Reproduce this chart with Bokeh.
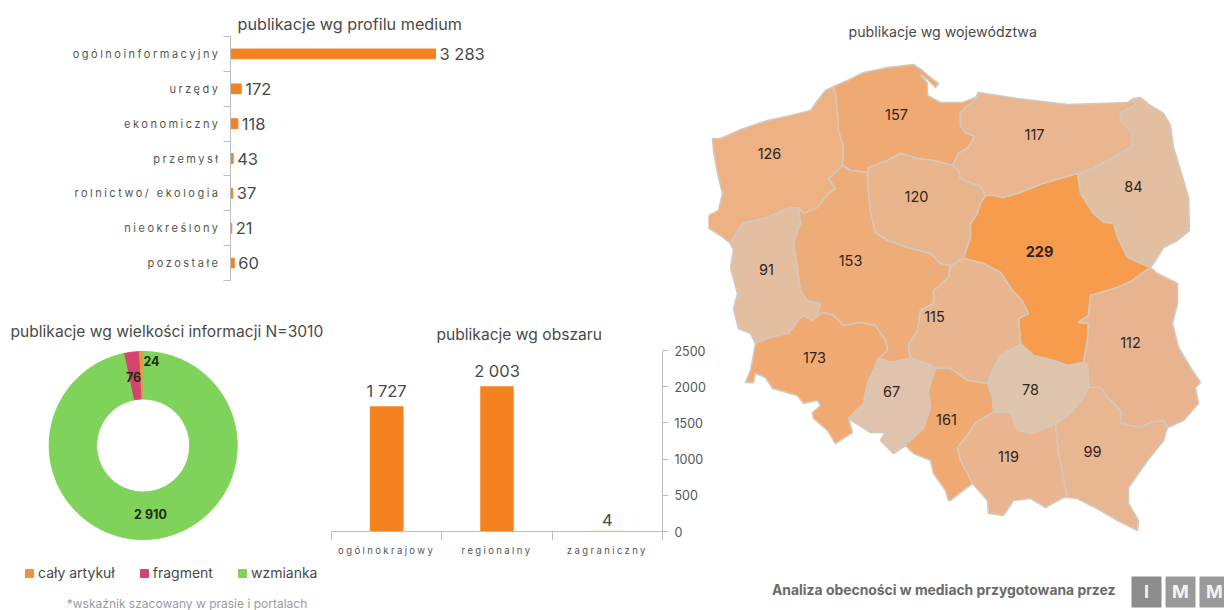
from math import pi
from bokeh.plotting import figure
from bokeh.layouts import row, column
from bokeh.models import Range1d, FixedTicker, Title, Legend, LegendItem, ColumnDataSource, LinearAxis
from bokeh.embed import file_html
from bokeh.resources import INLINE
from bokeh.core.properties import value

FONT = "Inter"
ORANGE = "#F58220"
TXT = "#4a4a4a"
AXIS = "#bdbdbd"

# --- data -----------------------------------------------------------------
profile_labels = ["ogólnoinformacyjny", "urzędy", "ekonomiczny", "przemysł",
                  "rolnictwo/ ekologia", "nieokreślony", "pozostałe"]
profile_values = [3283, 172, 118, 43, 37, 21, 60]
profile_text = ["3 283", "172", "118", "43", "37", "21", "60"]

size_labels = ["cały artykuł", "fragment", "wzmianka"]
size_values = [24, 76, 2910]
size_colors = ["#F0923B", "#D1456F", "#7FD35A"]

area_labels = ["ogólnokrajowy", "regionalny", "zagraniczny"]
area_values = [1727, 2003, 4]
area_text = ["1 727", "2 003", "4"]
area_ticks = [0, 500, 1000, 1500, 2000, 2500]

region_values = [126, 157, 120, 117, 84, 229, 91, 153, 115, 112, 173, 67, 78, 161, 119, 99]
region_colors = ["#EDB183", "#EFA972", "#E8B48C", "#E9B690", "#E3BFA2", "#F79C4C",
                 "#E3BEA0", "#EEAD78", "#E8B58E", "#E8B490", "#F0A970", "#DFC3AC",
                 "#DFC4AD", "#EFA971", "#E9B48E", "#E8B691"]
region_label_x = [769, 896, 916, 1034, 1133, 1039, 766, 850, 934, 1130, 814, 891, 1030, 946, 1008, 1092]
region_label_y = [153, 114, 196, 134, 186, 251, 269, 260, 316, 342, 357, 391, 389, 419, 456, 451]

zachodniopomorskie = [(833,86),(825,90),(817,100),(810,110),(790,115),(767,120),(743,128),(720,138),(712,138),(713,150),(717,173),(722,193),(718,210),(708,215),(707,227),(720,235),(730,243),(742,223),(767,217),(787,208),(798,207),(803,213),(817,207),(828,193),(835,188),(828,178),(835,172),(842,165),(843,147),(838,130),(837,113),(835,93)]
pomorskie = [(833,86),(847,80),(863,72),(887,67),(913,64),(922,70),(930,77),(938,83),(935,87),(927,79),(920,74),(927,83),(927,95),(940,102),(962,102),(975,97),(978,92),(977,97),(967,105),(960,112),(960,125),(965,132),(974,136),(968,147),(958,153),(952,165),(933,160),(917,158),(900,153),(887,160),(868,167),(867,172),(850,170),(842,165),(843,147),(838,130),(837,113),(835,93)]
kujawsko_pomorskie = [(868,167),(887,160),(900,153),(917,158),(933,160),(952,165),(958,170),(960,178),(980,186),(985,195),(980,203),(977,213),(970,223),(970,237),(963,258),(950,265),(940,263),(930,253),(907,247),(887,240),(875,232),(870,213),(867,183),(867,172)]
warminsko_mazurskie = [(978,92),(1017,98),(1067,104),(1127,102),(1133,98),(1135,105),(1120,112),(1120,120),(1132,133),(1130,147),(1110,158),(1093,168),(1077,173),(1060,178),(1043,183),(1017,193),(1003,197),(992,195),(985,195),(980,186),(960,178),(958,170),(952,165),(958,153),(968,147),(974,136),(965,132),(960,125),(960,112),(967,105),(977,97)]
podlaskie = [(1133,98),(1140,97),(1150,105),(1163,113),(1170,125),(1173,147),(1183,180),(1188,197),(1189,230),(1177,240),(1163,247),(1153,263),(1150,267),(1127,257),(1117,237),(1113,223),(1103,222),(1093,213),(1080,193),(1077,173),(1093,168),(1110,158),(1130,147),(1132,133),(1120,120),(1120,112),(1135,105)]
mazowieckie = [(1077,173),(1060,178),(1043,183),(1017,193),(1003,197),(992,195),(985,195),(980,203),(977,213),(970,223),(970,237),(963,258),(983,263),(1000,272),(1012,290),(1020,298),(1023,303),(1028,313),(1018,318),(1020,343),(1033,355),(1053,360),(1067,365),(1083,362),(1087,340),(1088,323),(1078,322),(1088,315),(1090,295),(1117,287),(1132,280),(1150,267),(1127,257),(1117,237),(1113,223),(1103,222),(1093,213),(1080,193)]
lubuskie = [(730,243),(742,223),(767,217),(787,208),(798,207),(800,223),(793,243),(797,267),(800,290),(807,300),(820,303),(815,320),(812,320),(800,317),(788,333),(778,335),(767,338),(755,343),(750,333),(738,328),(733,308),(738,290),(738,297),(730,267),(733,250)]
wielkopolskie = [(842,165),(850,170),(867,172),(867,183),(870,213),(875,232),(887,240),(907,247),(930,253),(940,263),(950,265),(948,277),(937,287),(933,290),(933,303),(920,310),(917,330),(908,345),(910,358),(890,362),(878,358),(887,350),(885,340),(875,325),(860,322),(843,325),(833,315),(822,312),(812,320),(815,320),(820,303),(807,300),(800,290),(797,267),(793,243),(800,223),(798,207),(803,213),(817,207),(828,193),(835,188),(828,178),(835,172)]
lodzkie = [(950,265),(963,258),(983,263),(1000,272),(1012,290),(1020,298),(1023,303),(1028,313),(1018,318),(1020,343),(1018,345),(1000,355),(992,370),(987,383),(967,380),(950,368),(935,368),(932,365),(910,358),(908,345),(917,330),(920,310),(933,303),(933,290),(937,287),(948,277)]
lubelskie = [(1150,267),(1157,273),(1177,283),(1177,303),(1172,323),(1178,347),(1190,367),(1200,382),(1195,387),(1198,403),(1183,420),(1167,427),(1163,420),(1150,422),(1140,427),(1120,423),(1120,410),(1107,397),(1100,387),(1088,387),(1087,365),(1083,362),(1087,340),(1088,323),(1078,322),(1088,315),(1090,295),(1117,287),(1132,280)]
dolnoslaskie = [(803,315),(812,320),(822,312),(833,315),(843,325),(860,322),(875,325),(885,340),(887,350),(878,358),(867,383),(863,403),(848,418),(852,432),(835,443),(827,430),(813,418),(812,412),(820,405),(817,400),(803,403),(797,395),(772,388),(765,377),(755,373),(753,382),(745,382),(750,370),(755,343),(767,338),(778,335),(788,333),(800,317)]
opolskie = [(878,358),(890,362),(910,358),(932,365),(935,368),(928,390),(930,407),(923,428),(905,445),(893,453),(880,440),(885,432),(870,432),(848,418),(863,403),(867,383)]
swietokrzyskie = [(1018,345),(1000,355),(992,370),(987,383),(992,397),(993,412),(1010,412),(1017,430),(1030,433),(1053,425),(1070,413),(1083,397),(1088,387),(1087,365),(1083,362),(1067,365),(1053,360),(1033,355),(1020,343)]
slaskie = [(935,368),(950,368),(967,380),(987,383),(992,397),(993,412),(975,422),(968,433),(957,447),(960,460),(972,483),(960,492),(950,500),(948,500),(945,490),(933,473),(930,460),(913,453),(905,445),(923,428),(930,407),(928,390)]
malopolskie = [(993,412),(975,422),(968,433),(957,447),(960,460),(972,483),(987,500),(988,513),(1003,515),(1013,500),(1030,498),(1045,507),(1063,497),(1067,497),(1063,477),(1058,453),(1055,423),(1053,425),(1030,433),(1017,430),(1010,412)]
podkarpackie = [(1088,387),(1100,387),(1107,397),(1120,410),(1120,423),(1140,427),(1150,422),(1163,420),(1167,427),(1163,440),(1147,460),(1128,487),(1128,503),(1138,520),(1137,530),(1117,520),(1100,510),(1077,498),(1067,497),(1063,477),(1058,453),(1055,423),(1070,413),(1083,397)]

regions = [zachodniopomorskie, pomorskie, kujawsko_pomorskie, warminsko_mazurskie, podlaskie,
           mazowieckie, lubuskie, wielkopolskie, lodzkie, lubelskie, dolnoslaskie, opolskie,
           swietokrzyskie, slaskie, malopolskie, podkarpackie]

# --- helpers --------------------------------------------------------------
def base(**kw):
    p = figure(output_backend="svg", toolbar_location=None, background_fill_color=None,
               border_fill_color=None, outline_line_color=None, **kw)
    p.grid.visible = False
    p.axis.visible = False
    return p

def heading(text, offset, standoff, size):
    return Title(text=text, align="left", offset=offset, standoff=standoff,
                 text_font=FONT, text_font_size=size, text_font_style="normal", text_color=TXT)

def tick_only_axis(ticks, out):
    return LinearAxis(ticker=FixedTicker(ticks=ticks), major_label_overrides={t: "" for t in ticks},
                      major_tick_in=0, major_tick_out=out, major_tick_line_color=AXIS,
                      minor_tick_line_color=None, axis_line_color=AXIS, major_label_standoff=0)

# --- profile bars: category labels in their own letter-spaced strip --------
n = len(profile_labels)
centers = [i + 0.5 for i in range(n)]
edges = list(range(n + 1))
shared_y = Range1d(n, 0)
SCALE_END = 478 * 3283 / 205
SP1 = 2.5

lab1 = base(width=222, height=300, x_range=Range1d(0, 222), y_range=shared_y,
            min_border_left=0, min_border_right=0, min_border_top=36, min_border_bottom=20,
            styles={"letter-spacing": f"{SP1}px"})
lab1.text(x=[220] * n, y=centers, text=profile_labels, x_offset=[-len(l) * SP1 for l in profile_labels],
          text_align="right", text_baseline="middle", text_font=value(FONT), text_font_size="11px",
          text_color="#555555")

top = base(width=486, height=300, x_range=Range1d(0, SCALE_END), y_range=shared_y,
           min_border_left=8, min_border_right=0, min_border_top=36, min_border_bottom=20)
top.add_layout(heading("publikacje wg profilu medium", 7, 6, "16.2px"), "above")
top.add_layout(tick_only_axis(edges, 7), "left")
src = ColumnDataSource(dict(y=centers, v=profile_values, t=profile_text))
top.hbar(y="y", left=0, right="v", height=0.28, source=src, fill_color=ORANGE, line_color=ORANGE)
top.text(x="v", y="y", text="t", source=src, x_offset=4, text_align="left", text_baseline="middle",
         text_font=value(FONT), text_font_size="16.5px", text_color=TXT)

# --- doughnut --------------------------------------------------------------
CX, CY, R = 142.7, 445.0, 94.0
def dx(x): return (x - CX) / R
def dy(y): return (CY - y) / R

donut = base(width=330, height=310, x_range=Range1d(dx(0), dx(330)), y_range=Range1d(dy(610), dy(345)),
             min_border_left=0, min_border_right=0, min_border_top=45, min_border_bottom=0)
donut.add_layout(heading("publikacje wg wielkości informacji N=3010", 10, 9, "15.6px"), "above")
total = sum(size_values)
starts, ends, acc = [], [], 0
for v in size_values:
    starts.append(pi / 2 + 2 * pi * acc / total)
    acc += v
    ends.append(pi / 2 + 2 * pi * acc / total)
dsrc = ColumnDataSource(dict(s=starts, e=ends, c=size_colors, l=size_labels))
ring = donut.annular_wedge(x=0, y=0, inner_radius=0.495, outer_radius=1.0, start_angle="s", end_angle="e",
                           fill_color="c", line_color="c", source=dsrc)
donut.text(x=[dx(151), dx(133), dx(150)], y=[dy(360), dy(376), dy(514)],
           text=["24", "76", "2 910"], text_align="center", text_baseline="middle",
           text_font=value(FONT), text_font_size="12.5px", text_font_style="bold", text_color="#1f2a14")
donut.text(x=[dx(186.5)], y=[dy(603)], text=["*wskaźnik szacowany w prasie i portalach"],
           text_align="center", text_baseline="middle", text_font=value(FONT),
           text_font_size="12px", text_color="#9a9aa5")
legend = Legend(items=[LegendItem(label=l, renderers=[ring], index=i) for i, l in enumerate(size_labels)],
                orientation="horizontal", location=(24, 29), border_line_color=None,
                background_fill_color=None, padding=0, margin=0, spacing=24, glyph_width=10, glyph_height=10,
                label_standoff=4, label_text_font=FONT, label_text_font_size="14px", label_text_color=TXT,
                label_height=14)
donut.add_layout(legend, "center")

# --- area bars -------------------------------------------------------------
m = len(area_labels)
acenters = [i + 0.5 for i in range(m)]
shared_x = Range1d(0, m)
SP2 = 2.4
bars = base(width=378, height=240, x_range=shared_x, y_range=Range1d(0, 2500),
            min_border_left=1, min_border_right=46, min_border_top=50, min_border_bottom=9)
bars.add_layout(heading("publikacje wg obszaru", 105, 14, "15.6px"), "above")
bars.add_layout(tick_only_axis(list(range(m + 1)), 9), "below")
ax = LinearAxis(ticker=FixedTicker(ticks=area_ticks), major_tick_in=0, major_tick_out=6,
                major_tick_line_color=AXIS, minor_tick_line_color=None, axis_line_color=AXIS,
                major_label_text_font=FONT, major_label_text_font_size="12.5px",
                major_label_text_color="#555555", major_label_standoff=6)
bars.add_layout(ax, "right")
asrc = ColumnDataSource(dict(x=acenters, v=area_values, t=area_text))
bars.vbar(x="x", bottom=0, top="v", width=0.3, source=asrc, fill_color=ORANGE, line_color=ORANGE, line_width=0.5)
bars.text(x="x", y="v", text="t", source=asrc, y_offset=-5, text_align="center", text_baseline="bottom",
          text_font=value(FONT), text_font_size="16.5px", text_color=TXT)

lab2 = base(width=378, height=70, x_range=shared_x, y_range=Range1d(0, 70),
            min_border_left=1, min_border_right=46, min_border_top=0, min_border_bottom=0,
            styles={"letter-spacing": f"{SP2}px"})
lab2.text(x=acenters, y=[60] * m, text=area_labels, x_offset=[-len(l) * SP2 / 2 for l in area_labels],
          text_align="center", text_baseline="middle", text_font=value(FONT), text_font_size="9.5px",
          text_color="#555555")

# --- map -------------------------------------------------------------------
mp = base(width=516, height=610, x_range=Range1d(708, 1224), y_range=Range1d(610, 44),
          min_border_left=0, min_border_right=0, min_border_top=44, min_border_bottom=0)
mp.add_layout(heading("publikacje wg województwa", 140, 9, "14.2px"), "above")
mp.patches(xs=[[pt[0] for pt in r] for r in regions], ys=[[pt[1] for pt in r] for r in regions],
           fill_color=region_colors, line_color="#D5C8BA", line_width=1.6, line_join="round")
mp.text(x=region_label_x, y=region_label_y, text=[str(v) for v in region_values],
        text_align="center", text_baseline="middle", text_font=value(FONT), text_font_size="14.5px",
        text_font_style=["bold" if v == max(region_values) else "normal" for v in region_values],
        text_color="#33241c")
mp.text(x=[1115], y=[589], text=["Analiza obecności w mediach przygotowana przez"], text_align="right",
        text_baseline="middle", text_font=value(FONT), text_font_size="13.9px", text_font_style="bold",
        text_color="#6a6a6a")
mp.quad(left=[1131, 1165, 1199], right=[1161, 1195, 1229], top=[576, 576, 576], bottom=[607, 607, 607],
        fill_color=["#8c8c8c", "#9a9a9a", "#9a9a9a"], line_color=None)
mp.text(x=[1146, 1180, 1214], y=[591, 591, 591], text=["I", "M", "M"], text_align="center",
        text_baseline="middle", text_font=value(FONT), text_font_size="18px", text_font_style="bold",
        text_color="#f2f2f2")

layout = row(column(row(lab1, top), row(donut, column(bars, lab2))), mp)
open("out.html", "w").write(file_html(layout, INLINE))
